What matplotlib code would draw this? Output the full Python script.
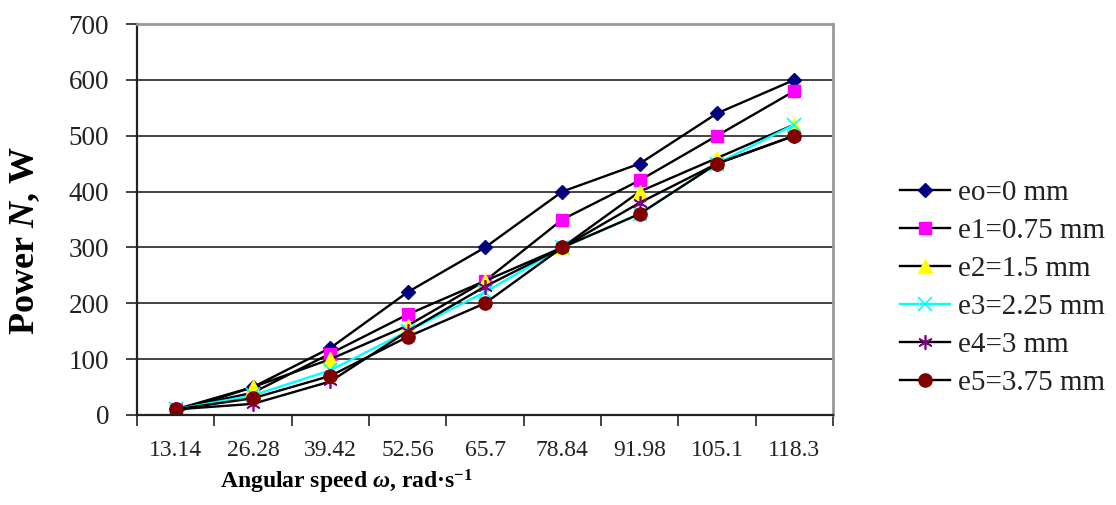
import matplotlib
matplotlib.use("Agg")
import matplotlib.pyplot as plt
import numpy as np

categories = ["13.14", "26.28", "39.42", "52.56", "65.7", "78.84", "91.98", "105.1", "118.3"]
series_names = ["eo=0 mm", "e1=0.75 mm", "e2=1.5 mm", "e3=2.25 mm", "e4=3 mm", "e5=3.75 mm"]
e0 = [10, 50, 120, 220, 300, 400, 450, 540, 600]
e1 = [10, 40, 110, 180, 240, 350, 420, 500, 580]
e2 = [5, 50, 100, 160, 240, 300, 400, 460, 520]
e3 = [10, 35, 80, 150, 220, 300, 360, 450, 520]
e4 = [10, 20, 60, 150, 230, 300, 380, 450, 500]
e5 = [10, 30, 70, 140, 200, 300, 360, 450, 500]
yticks = [0, 100, 200, 300, 400, 500, 600, 700]

plt.rcParams['font.family'] = ['Liberation Serif', 'DejaVu Serif']
plt.rcParams['mathtext.fontset'] = 'custom'
plt.rcParams['mathtext.rm'] = 'Liberation Serif:bold'
plt.rcParams['mathtext.it'] = 'Liberation Serif:italic:bold'
plt.rcParams['mathtext.bf'] = 'Liberation Serif:bold'

fig = plt.figure(figsize=(11.16, 5.05), dpi=100)
ax = fig.add_axes([137/1116, 1-415/505, (833-137)/1116, (415-24)/505])

styles = [
    dict(color='black', marker='D', mfc='#000080', mec='#000080', ms=7.5),
    dict(color='black', marker='s', mfc='#FF00FF', mec='#FF00FF', ms=8.5),
    dict(color='black', marker='^', mfc='#FFFF00', mec='#FFFF00', ms=9.5),
    dict(color='#00FFFF', marker='x', mfc='#00FFFF', mec='#00FFFF', ms=9.5, mew=1.2),
    dict(color='black', marker=(6, 2, 0), mfc='#800080', mec='#800080', ms=10.5, mew=1.2),
    dict(color='black', marker='o', mfc='#800000', mec='#800000', ms=9.5),
]
data = [e0, e1, e2, e3, e4, e5]
x = np.arange(len(categories))
for name, vals, st in zip(series_names, data, styles):
    ax.plot(x, vals, lw=1.7, label=name, **st)

ax.set_xlim(-0.5, len(categories) - 0.5)
ax.set_ylim(0, 700)
ax.set_yticks(yticks)
ax.set_yticklabels([str(v) for v in yticks], fontsize=19.5, color='#222222')
ax.set_xticks(x)
ax.set_xticklabels(categories, fontsize=17, color='#222222')
ax.set_xticks(np.arange(-0.5, len(categories), 1.0), minor=True)
ax.tick_params(axis='x', which='major', length=0, pad=18)
ax.tick_params(axis='x', which='minor', length=8, width=1.2, direction='out', color='#222222')
ax.tick_params(axis='y', which='major', length=8, width=1.2, direction='out', pad=12, color='#222222')

for yv in yticks[1:-1]:
    ax.axhline(yv, color='#222222', lw=1.2, zorder=0.5)

ax.spines['left'].set_color('#222222')
ax.spines['bottom'].set_color('#222222')
ax.spines['left'].set_linewidth(1.6)
ax.spines['bottom'].set_linewidth(1.6)
ax.spines['top'].set_color('#999999')
ax.spines['right'].set_color('#999999')
ax.spines['top'].set_linewidth(2)
ax.spines['right'].set_linewidth(2)

leg = fig.legend(loc='center left', bbox_to_anchor=(900/1116, 1-288/505), frameon=False,
                 fontsize=21, handlelength=1.7, handletextpad=0.3, labelspacing=0.4,
                 borderpad=0, borderaxespad=0)
for t in leg.get_texts():
    t.set_color('#222222')

fig.text(25/1116, 1-241/505, r"Power $N$, W", rotation=90, fontsize=26, fontweight='bold',
         ha='center', va='center')
fig.text(346/1116, 1-482/505, r"Angular speed $\omega$, rad·s$^{\mathbf{-1}}$", fontsize=17,
         fontweight='bold', ha='center', va='center')

fig.savefig("out.png", dpi=100)
